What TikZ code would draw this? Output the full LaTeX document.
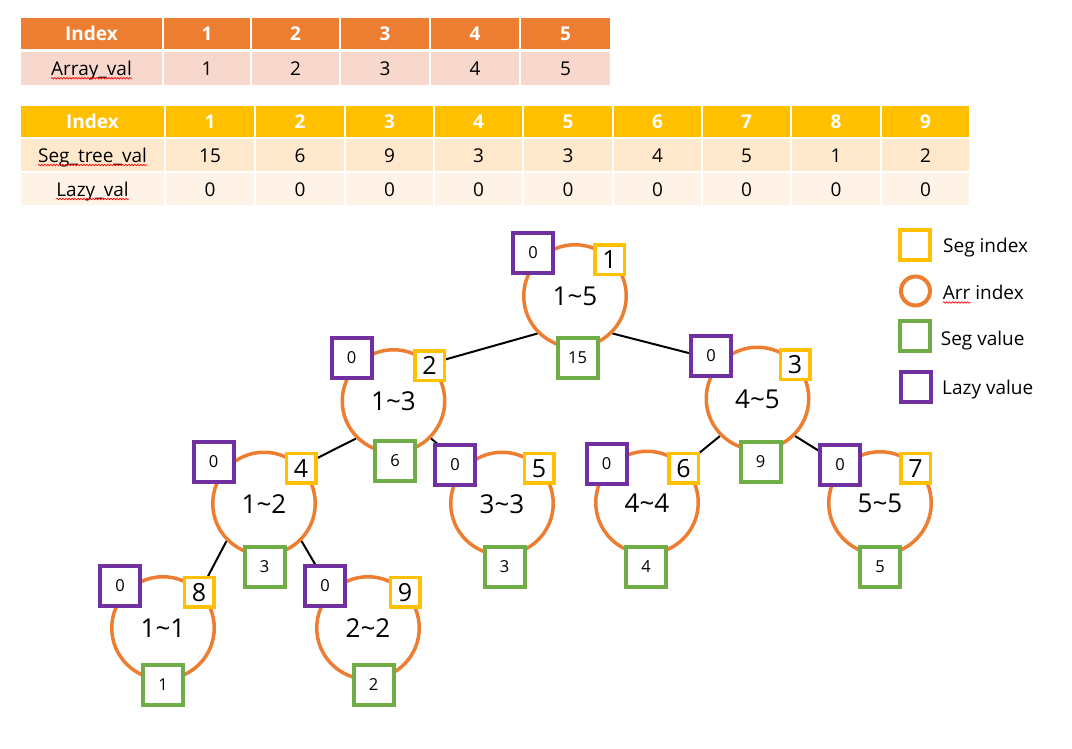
\documentclass[tikz,border=0pt]{standalone}
\usepackage{fontspec}
\setmainfont{Open Sans}
\usetikzlibrary{decorations.pathmorphing}
\definecolor{orng}{HTML}{ED7D31}
\definecolor{gold}{HTML}{FFC000}
\definecolor{grn}{HTML}{70AD47}
\definecolor{purp}{HTML}{7030A0}
\definecolor{pinkA}{HTML}{F8D7CD}
\definecolor{peach}{HTML}{FFE8CC}
\definecolor{cream}{HTML}{FFF3E7}
\pgfdeclarelayer{bg}
\pgfsetlayers{bg,main}
\newcommand\tld{\char`\~}
\tikzset{
  cell/.style={rectangle, draw=white, line width=2.5pt, inner sep=0pt, text height=14pt, text depth=0pt, font=\fontsize{19}{23}\selectfont},
  headA/.style={cell, fill=orng, text=white, font=\bfseries\fontsize{19}{23}\selectfont},
  rowA/.style={cell, fill=pinkA},
  headB/.style={cell, fill=gold, text=white, font=\bfseries\fontsize{19}{23}\selectfont},
  rowB/.style={cell, fill=peach},
  rowC/.style={cell, fill=cream},
  txt/.style={inner sep=0pt, text height=14pt, text depth=0pt, font=\fontsize{19}{23}\selectfont},
  squig/.style={draw=red, line width=0.6pt, decorate, decoration={snake, amplitude=0.8pt, segment length=3pt}},
  arr/.style={circle, draw=orng, line width=3.5pt, fill=white, minimum size=102.5pt, inner sep=0pt, text height=19pt, text depth=0pt, font=\fontsize{26}{30}\selectfont},
  segidx/.style={rectangle, draw=gold, line width=3.5pt, fill=white, minimum size=29.5pt, inner sep=0pt, text height=18.3pt, text depth=0pt, font=\fontsize{25}{30}\selectfont},
  lazy/.style={rectangle, draw=purp, line width=4pt, fill=white, minimum size=40pt, inner sep=0pt, text height=11.8pt, text depth=0pt, font=\fontsize{16.5}{20}\selectfont},
  segval/.style={rectangle, draw=grn, line width=4pt, fill=white, minimum size=40pt, inner sep=0pt, text height=11.8pt, text depth=0pt, font=\fontsize{16.5}{20}\selectfont},
  link/.style={draw=black, line width=2pt},
  legtxt/.style={anchor=west, inner sep=0pt, text height=14pt, text depth=0pt, font=\fontsize{19}{23}\selectfont},
}
\begin{document}
\begin{tikzpicture}[x=1pt,y=-1pt]
\useasboundingbox (0,0) rectangle (1072,748);

% ---------- table 1 ----------
\node[headA, minimum width=143pt, minimum height=33.5pt] (a0) at (91.5,33.75) {Index};
\node[rowA, minimum width=143pt, minimum height=35.5pt] (a0r) at (91.5,68.25) {};
\node[txt] (lA) at (a0r) {Array\_val};
\foreach \i/\l/\r/\lab in {1/163/251/1,2/251/340/2,3/340/430/3,4/430/520/4,5/520/611/5}{
  \pgfmathsetmacro\w{\r-\l}
  \pgfmathsetmacro\c{(\l+\r)/2}
  \node[headA, minimum width=\w pt, minimum height=33.5pt] (ah\i) at (\c,33.75) {\lab};
  \node[rowA, minimum width=\w pt, minimum height=35.5pt] (ar\i) at (\c,68.25) {\lab};
}
\draw[squig] ([yshift=-3pt]lA.base west) -- ([yshift=-3pt]lA.base east);

% ---------- table 2 ----------
\node[headB, minimum width=145pt, minimum height=33.5pt] (b0) at (92.5,121.25) {Index};
\node[rowB, minimum width=145pt, minimum height=34pt] (b0r) at (92.5,155) {};
\node[txt] (lS) at (b0r) {Seg\_tree\_val};
\node[rowC, minimum width=145pt, minimum height=34pt] (b0z) at (92.5,189) {};
\node[txt] (lL) at (b0z) {Lazy\_val};
\foreach \i/\l/\r/\s in {1/165/255/15,2/255/345/6,3/345/434/9,4/434/523/3,5/523/613/3,6/613/702/4,7/702/791/5,8/791/881/1,9/881/970/2}{
  \pgfmathsetmacro\w{\r-\l}
  \pgfmathsetmacro\c{(\l+\r)/2}
  \node[headB, minimum width=\w pt, minimum height=33.5pt] (bh\i) at (\c,121.25) {\i};
  \node[rowB, minimum width=\w pt, minimum height=34pt] (bs\i) at (\c,155) {\s};
  \node[rowC, minimum width=\w pt, minimum height=34pt] (bz\i) at (\c,189) {0};
}
\draw[squig] ([yshift=-3pt]lS.base west) -- ([yshift=-3pt]lS.base east);
\draw[squig] ([yshift=-3pt]lL.base west) -- ([yshift=-3pt]lL.base east);

% ---------- tree: circles ----------
\node[arr] (n1) at (575,296) {1\tld5};
\node[arr] (n2) at (393.5,401) {1\tld3};
\node[arr] (n3) at (757.5,398.5) {4\tld5};
\node[arr] (n4) at (264,503.5) {1\tld2};
\node[arr] (n5) at (502,503.5) {3\tld3};
\node[arr] (n6) at (647,502.5) {4\tld4};
\node[arr] (n7) at (880,503) {5\tld5};
\node[arr] (n8) at (163,628) {1\tld1};
\node[arr] (n9) at (368,628) {2\tld2};

% ---------- connectors ----------
\begin{pgfonlayer}{bg}
\draw[link] (n1.south west) -- (n2.north east);
\draw[link] (n1.south east) -- (n3.north west);
\draw[link] (n2.south west) -- (n4.north east);
\draw[link] (n2.south east) -- (n5.north west);
\draw[link] (n3.south west) -- (n6.north east);
\draw[link] (n3.south east) -- (n7.north west);
\draw[link] (n4.south west) -- (n8.north east);
\draw[link] (n4.south east) -- (n9.north west);
\end{pgfonlayer}

% ---------- boxes ----------
\node[lazy] (z1) at (533,253) {0};
\node[segidx] (s1) at (609.5,259.5) {1};
\node[segval] (v1) at (577.5,358) {15};

\node[lazy] (z2) at (351.5,358) {0};
\node[segidx] (s2) at (429.5,365.5) {2};
\node[segval] (v2) at (395,460.5) {6};

\node[lazy] (z3) at (711,355.5) {0};
\node[segidx] (s3) at (795,364.5) {3};
\node[segval] (v3) at (760.5,462) {9};

\node[lazy] (z4) at (213.5,462) {0};
\node[segidx] (s4) at (301,468) {4};
\node[segval] (v4) at (264.5,566.5) {3};

\node[lazy] (z5) at (455,465) {0};
\node[segidx] (s5) at (539,468) {5};
\node[segval] (v5) at (504.5,566.5) {3};

\node[lazy] (z6) at (606.5,464) {0};
\node[segidx] (s6) at (683.5,468) {6};
\node[segval] (v6) at (646,566.5) {4};

\node[lazy] (z7) at (840,465) {0};
\node[segidx] (s7) at (915.5,468) {7};
\node[segval] (v7) at (880,566.5) {5};

\node[lazy] (z8) at (120,586) {0};
\node[segidx] (s8) at (199,592) {8};
\node[segval] (v8) at (163,685) {1};

\node[lazy] (z9) at (325,586) {0};
\node[segidx] (s9) at (405,592) {9};
\node[segval] (v9) at (373.5,685) {2};

% ---------- legend ----------
\node[segidx, minimum size=30pt, line width=4pt] (lg1) at (915,244.5) {};
\node[legtxt] (lt1) at (943,245.4) {Seg index};
\node[arr, minimum size=29pt, line width=4pt] (lg2) at (915.5,291) {};
\node[legtxt] (lt2) at (942.7,292.5) {Arr index};
\node[segval, minimum size=30pt] (lg3) at (915,336) {};
\node[legtxt] (lt3) at (940.7,338.3) {Seg value};
\node[lazy, minimum size=30pt] (lg4) at (916,386.5) {};
\node[legtxt] (lt4) at (942,387.3) {Lazy value};
\draw[squig] ([yshift=-3pt]lt2.base west) -- ++(28,0);
\end{tikzpicture}
\end{document}
